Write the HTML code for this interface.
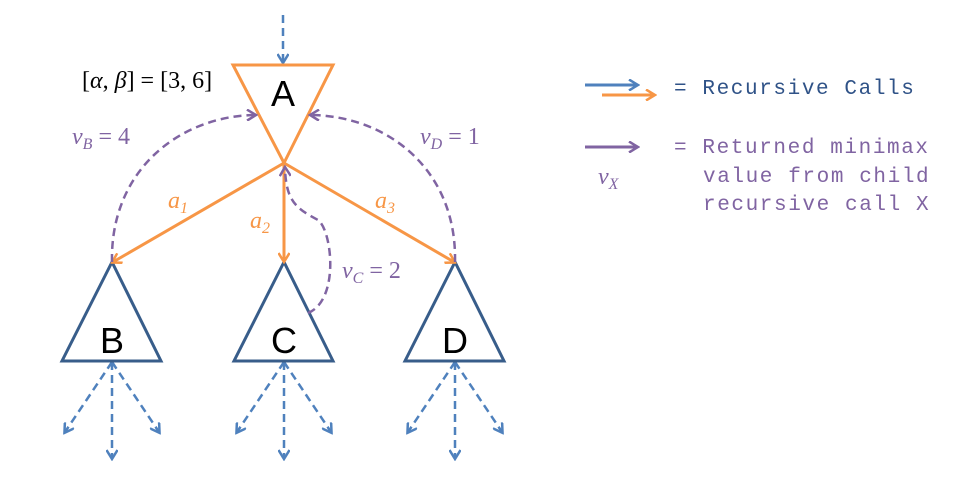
<!DOCTYPE html>
<html><head><style>body{margin:0;background:#fff}svg{display:block}</style></head><body>
<svg width="961" height="478" viewBox="0 0 961 478" xmlns="http://www.w3.org/2000/svg">
<defs>
<marker id="ob" markerWidth="12" markerHeight="12" refX="9" refY="6" orient="auto" markerUnits="userSpaceOnUse"><path d="M1,0.5 L10,6 L1,11.5" fill="none" stroke="#F79646" stroke-width="2.5"/></marker>
<marker id="bb" markerWidth="12" markerHeight="12" refX="9" refY="6" orient="auto" markerUnits="userSpaceOnUse"><path d="M1,0.5 L10,6 L1,11.5" fill="none" stroke="#4F81BD" stroke-width="2.5"/></marker>
<marker id="pb" markerWidth="12" markerHeight="12" refX="9" refY="6" orient="auto" markerUnits="userSpaceOnUse"><path d="M1,0.5 L10,6 L1,11.5" fill="none" stroke="#8064A2" stroke-width="2.5"/></marker>
</defs>
<g stroke="#4F81BD" stroke-width="2.5" stroke-dasharray="8,5" fill="none">
<line x1="283" y1="15" x2="283" y2="62" marker-end="url(#bb)"/>
<line x1="112" y1="362" x2="65" y2="432" marker-end="url(#bb)"/>
<line x1="112" y1="362" x2="112" y2="458" marker-end="url(#bb)"/>
<line x1="112" y1="362" x2="159" y2="432" marker-end="url(#bb)"/>
<line x1="284" y1="362" x2="237" y2="432" marker-end="url(#bb)"/>
<line x1="284" y1="362" x2="284" y2="458" marker-end="url(#bb)"/>
<line x1="284" y1="362" x2="331" y2="432" marker-end="url(#bb)"/>
<line x1="455" y1="362" x2="408" y2="432" marker-end="url(#bb)"/>
<line x1="455" y1="362" x2="455" y2="458" marker-end="url(#bb)"/>
<line x1="455" y1="362" x2="502" y2="432" marker-end="url(#bb)"/>
</g>
<g stroke="#385D8A" stroke-width="3" fill="#fff">
<path d="M112,262 L62,361 L161,361 Z"/>
<path d="M284,262 L234,361 L333,361 Z"/>
<path d="M455,262 L405,361 L504,361 Z"/>
</g>
<path d="M233,65 L333,65 L284,163 Z" fill="#fff" stroke="#F79646" stroke-width="3"/>
<g stroke="#F79646" stroke-width="3" fill="none">
<line x1="284" y1="163" x2="113" y2="262" marker-end="url(#ob)"/>
<line x1="284" y1="163" x2="284" y2="261" marker-end="url(#ob)"/>
<line x1="284" y1="163" x2="454" y2="262" marker-end="url(#ob)"/>
</g>
<g stroke="#8064A2" stroke-width="2.5" stroke-dasharray="8,5" fill="none">
<path d="M112,262 C110,170 180,116 255,115" marker-end="url(#pb)"/>
<path d="M455,262 C457,170 388,116 311,115" marker-end="url(#pb)"/>
<path d="M308,313 C340,300 332,230 318,220 C295,208 286,200 285,168" marker-end="url(#pb)"/>
</g>
<g font-family="'Liberation Serif',serif" font-size="24">
<text x="82" y="88" fill="#000">[<tspan font-style="italic">α</tspan>, <tspan font-style="italic">β</tspan>] = [3, 6]</text>
<g fill="#8064A2">
<text x="72" y="144"><tspan font-style="italic">v</tspan><tspan font-size="16" font-style="italic" dy="5">B</tspan><tspan dy="-5"> = 4</tspan></text>
<text x="420" y="144"><tspan font-style="italic">v</tspan><tspan font-size="16" font-style="italic" dy="5">D</tspan><tspan dy="-5"> = 1</tspan></text>
<text x="342" y="278"><tspan font-style="italic">v</tspan><tspan font-size="16" font-style="italic" dy="5">C</tspan><tspan dy="-5"> = 2</tspan></text>
<text x="598" y="184"><tspan font-style="italic">v</tspan><tspan font-size="16" font-style="italic" dy="5">X</tspan></text>
</g>
<g fill="#F79646" font-style="italic">
<text x="168" y="208">a<tspan font-size="16" dy="5">1</tspan></text>
<text x="250" y="228">a<tspan font-size="16" dy="5">2</tspan></text>
<text x="375" y="208">a<tspan font-size="16" dy="5">3</tspan></text>
</g>
</g>
<g font-family="'Liberation Sans',sans-serif" font-size="36" fill="#000" text-anchor="middle">
<text x="283" y="106">A</text>
<text x="112" y="353">B</text>
<text x="284" y="353">C</text>
<text x="455" y="353">D</text>
</g>
<line x1="585" y1="85" x2="637" y2="85" stroke="#4F81BD" stroke-width="3" marker-end="url(#bb)"/>
<line x1="602" y1="95" x2="654" y2="95" stroke="#F79646" stroke-width="3" marker-end="url(#ob)"/>
<line x1="585" y1="147" x2="637" y2="147" stroke="#8064A2" stroke-width="3" marker-end="url(#pb)"/>
<g font-family="'Liberation Mono',monospace" font-size="21" letter-spacing="1.6">
<text x="674" y="94" fill="#2F5287">= Recursive Calls</text>
<g fill="#8064A2">
<text x="674" y="153">= Returned minimax</text>
<text x="703" y="182">value from child</text>
<text x="703" y="210">recursive call X</text>
</g>
</g>
</svg>
</body></html>
